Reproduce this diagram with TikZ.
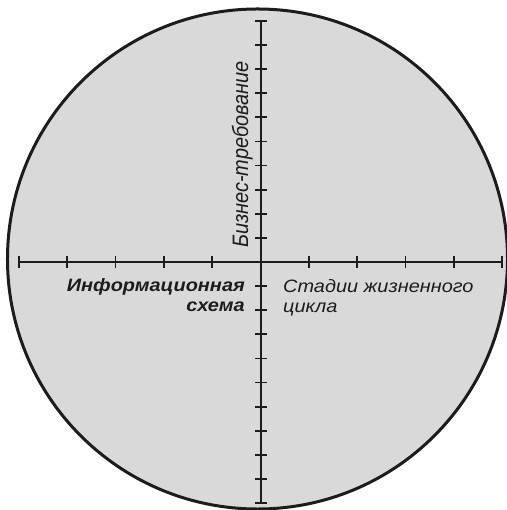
\documentclass[tikz,border=0pt]{standalone}
\usepackage{fontspec}
\setmainfont{Liberation Sans}
\usetikzlibrary{positioning,calc}
\definecolor{disc}{HTML}{D9D9D9}
\definecolor{ink}{HTML}{1C1C1C}
% flattened block of lines, baseline on the last line
\newcommand\flatlines[2]{\scalebox{1}[0.9]{\begin{tabular}[b]{@{}#1@{}}#2\end{tabular}}}
\tikzset{
    every picture/.style={line join=round},
    discnode/.style={circle,draw=ink,fill=disc,line width=3bp,
      minimum size=500bp,inner sep=0pt,outer sep=0pt},
    axisline/.style={draw=ink,line width=2bp},
    tickmark/.style={draw=ink,line width=1.8bp},
    axislabel/.style={text=ink,inner sep=0pt,
      font=\fontsize{20}{23.3}\selectfont\itshape},
    boldlabel/.style={axislabel,font=\fontsize{20}{23.3}\selectfont\bfseries\itshape}
}

\begin{document}
\begin{tikzpicture}[x=1bp,y=1bp]
  \useasboundingbox (-261,-248) rectangle (246,262);
  \node[discnode] (disc) at (-3.5,3) {};

  % axis ends
  \coordinate (west) at (-242,0);
  \coordinate (east) at (241,0);
  \coordinate (south) at (0,-241);
  \coordinate (north) at (0,241);
  \draw[axisline] (west) -- (east);
  \draw[axisline] (south) -- (north);
  \foreach \i in {0,...,10}
    \draw[tickmark] ($(west)+(48.3*\i,-6)$) -- ++(0,12);
  \foreach \j in {0,...,20}
    \draw[tickmark] ($(south)+(-6,24.1*\j)$) -- ++(12,0);

  \node[boldlabel,anchor=base east] (schema) at (-16,-50)
    {\flatlines{r}{Информационная\\схема}};
  \node[axislabel,anchor=base west] (lifecycle) at (22,-51)
    {\flatlines{l}{Стадии жизненного\\цикла}};
  \node[axislabel,rotate=90,anchor=base west] (bizreq) at (-13,14)
    {\scalebox{1}[1.12]{Бизнес-требование}};
\end{tikzpicture}
\end{document}
